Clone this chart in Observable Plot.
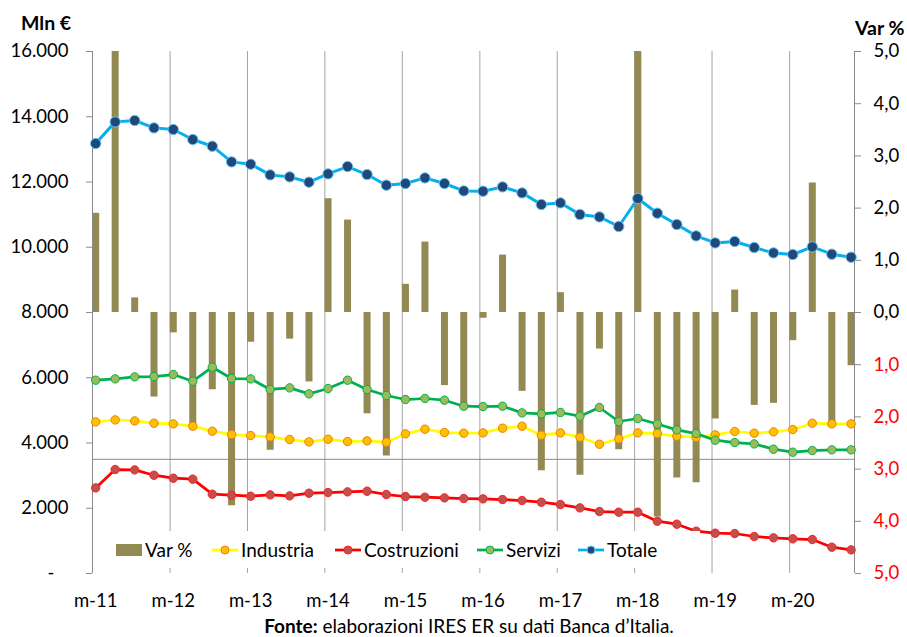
<!DOCTYPE html>
<html>
<head>
<meta charset="utf-8">
<script src="https://cdn.jsdelivr.net/npm/d3@7"></script>
<script src="https://cdn.jsdelivr.net/npm/@observablehq/plot@0.6"></script>
<style>
  html, body { margin: 0; padding: 0; background: #fff; }
  body { font-family: Lato, "Open Sans", sans-serif; color: #000; }
  #wrap { position: relative; width: 907px; height: 637px; overflow: hidden; }
  #chart { position: absolute; left: 0; top: 0; }
  .ttl { position: absolute; font-weight: bold; font-size: 19.5px; }
  #legend { position: absolute; left: 104px; top: 531px; width: 596px; height: 37px; background: #fff; }
  .li { position: absolute; top: 0; height: 37px; display: flex; align-items: center; font-size: 19px; white-space: nowrap; }
  #caption { position: absolute; left: 0; top: 614px; width: 938px; text-align: center; font-size: 19px; }
</style>
</head>
<body>
<div id="wrap">
  <div id="chart"></div>
  <div class="ttl" style="left:21px; top:11px;">Mln €</div>
  <div class="ttl" style="left:855px; top:16px;">Var %</div>
  <div id="legend"></div>
  <div id="caption"><b>Fonte:</b> elaborazioni IRES ER su dati Banca d’Italia.</div>
</div>
<script>
// Quarterly loans by sector (million €) and quarterly % change of the total
const periods = [
  "2011-03","2011-06","2011-09","2011-12",
  "2012-03","2012-06","2012-09","2012-12",
  "2013-03","2013-06","2013-09","2013-12",
  "2014-03","2014-06","2014-09","2014-12",
  "2015-03","2015-06","2015-09","2015-12",
  "2016-03","2016-06","2016-09","2016-12",
  "2017-03","2017-06","2017-09","2017-12",
  "2018-03","2018-06","2018-09","2018-12",
  "2019-03","2019-06","2019-09","2019-12",
  "2020-03","2020-06","2020-09","2020-12"
];

const industria = [
  4647, 4708, 4677, 4607, 4586, 4515, 4362, 4260, 4229, 4188,
  4106, 4034, 4116, 4045, 4065, 4024, 4280, 4423, 4321, 4300,
  4310, 4454, 4515, 4239, 4310, 4178, 3963, 4127, 4310, 4290,
  4208, 4178, 4249, 4352, 4300, 4341, 4413, 4607, 4586, 4586
];

const costruzioni = [
  2624, 3187, 3176, 3013, 2921, 2891, 2431, 2400, 2369, 2410,
  2380, 2461, 2482, 2502, 2523, 2421, 2360, 2339, 2318, 2298,
  2288, 2267, 2237, 2185, 2114, 2012, 1900, 1879, 1879, 1603,
  1511, 1297, 1236, 1226, 1134, 1093, 1063, 1042, 807, 725
];

const servizi = [
  5925, 5966, 6027, 6037, 6099, 5894, 6323, 5976, 5966, 5640,
  5690, 5506, 5670, 5925, 5640, 5456, 5333, 5364, 5312, 5128,
  5118, 5128, 4923, 4892, 4935, 4821, 5088, 4659, 4751, 4581,
  4402, 4290, 4086, 4015, 3973, 3810, 3718, 3769, 3790, 3790
];

const totale = [
  13180, 13843, 13885, 13659, 13609, 13302, 13097, 12617, 12546, 12218,
  12157, 11994, 12249, 12474, 12229, 11902, 11954, 12126, 11954, 11727,
  11718, 11850, 11666, 11310, 11360, 11004, 10930, 10636, 11494, 11044,
  10697, 10348, 10133, 10176, 9992, 9827, 9778, 10011, 9787, 9695
];

const varPct = [
  1.90, 5.00, 0.28, -1.62, -0.39, -2.25, -1.48, -3.70, -0.57, -2.64,
  -0.51, -1.33, 2.18, 1.77, -1.94, -2.75, 0.54, 1.35, -1.40, -1.80,
  -0.11, 1.10, -1.51, -3.03, 0.38, -3.12, -0.70, -2.63, 5.00, -3.92,
  -3.17, -3.26, -2.04, 0.43, -1.78, -1.74, -0.54, 2.48, -2.20, -1.02
];

const yearLabels = ["m-11","m-12","m-13","m-14","m-15","m-16","m-17","m-18","m-19","m-20"];
const leftTicks = [0, 2000, 4000, 6000, 8000, 10000, 12000, 14000, 16000];
const rightTicks = [-5, -4, -3, -2, -1, 0, 1, 2, 3, 4, 5];
const refLine = 3500;

// Secondary axis: 0% sits at 8.000, ±5% at the edges of the left scale
const pctToLeft = v => 8000 + v * 1600;

const itFmt = d3.formatLocale({decimal: ",", thousands: ".", grouping: [3], currency: ["", "€"]}).format(",");
const pctFmt = v => Math.abs(v).toFixed(1).replace(".", ",");

// Each quarter is plotted at the middle of its closing month
const dateOf = p => new Date(Date.UTC(+p.slice(0, 4), +p.slice(5, 7) - 1, 16));
const rows = periods.map((p, i) => ({
  date: dateOf(p),
  industria: industria[i],
  costruzioni: costruzioni[i],
  servizi: servizi[i],
  totale: totale[i],
  pct: varPct[i]
}));

const firstYear = +periods[0].slice(0, 4);
const lastYear = +periods[periods.length - 1].slice(0, 4);
const yearStarts = d3.range(firstYear + 1, lastYear + 1).map(y => new Date(Date.UTC(y, 2, 1)));
const labelDates = yearLabels.map((_, k) => new Date(Date.UTC(firstYear + k, 2, 16)));
const xStart = new Date(Date.UTC(firstYear, 2, 1));
const xEnd = new Date(Date.UTC(lastYear + 1, 0, 1));

const grid = "#a3a3a3";
const axisGray = "#8a8a8a";

const chart = Plot.plot({
  width: 907,
  height: 612,
  marginTop: 51,
  marginBottom: 39,
  marginLeft: 92,
  marginRight: 53,
  style: {fontFamily: "Lato, 'Open Sans', sans-serif", fontSize: "18.5px", color: "#000", background: "transparent"},
  x: {type: "utc", domain: [xStart, xEnd]},
  y: {domain: [0, 16000]},
  marks: [
    Plot.ruleX(yearStarts, {stroke: grid, strokeWidth: 1}),
    Plot.ruleY([refLine], {stroke: axisGray, strokeWidth: 1}),
    Plot.ruleX(rows, {x: "date", y1: 8000, y2: d => pctToLeft(d.pct), stroke: "#938953", strokeWidth: 7}),
    // left axis
    Plot.ruleX([xStart], {stroke: axisGray}),
    Plot.axisY(leftTicks, {
      anchor: "left", tickSize: 6, tickPadding: 18, stroke: axisGray, fill: "#000",
      tickFormat: d => d === 0 ? "-\u00a0\u00a0\u00a0" : itFmt(d)
    }),
    // right axis (Var %)
    Plot.ruleX([xEnd], {stroke: axisGray}),
    Plot.axisY(rightTicks.filter(v => v >= 0).map(pctToLeft), {
      anchor: "right", tickSize: 6, tickPadding: 13, stroke: axisGray, fill: "#000",
      tickFormat: d => pctFmt((d - 8000) / 1600)
    }),
    Plot.axisY(rightTicks.filter(v => v < 0).map(pctToLeft), {
      anchor: "right", tickSize: 6, tickPadding: 13, stroke: axisGray, fill: "#ff0000",
      tickFormat: d => pctFmt((d - 8000) / 1600)
    }),
    // x axis labels
    Plot.axisX(labelDates, {
      anchor: "bottom", tickSize: 0, tickPadding: 20, fill: "#000",
      tickFormat: (d, i) => yearLabels[i]
    }),
    // series
    Plot.line(rows, {x: "date", y: "industria", stroke: "#ffff00", strokeWidth: 2.75}),
    Plot.dot(rows, {x: "date", y: "industria", r: 4.2, fill: "#ffc000", stroke: "#ee7d12", strokeWidth: 1}),
    Plot.line(rows, {x: "date", y: "costruzioni", stroke: "#ff0000", strokeWidth: 2.75}),
    Plot.dot(rows, {x: "date", y: "costruzioni", r: 4.2, fill: "#c0504d", stroke: "#ff2020", strokeWidth: 1}),
    Plot.line(rows, {x: "date", y: "servizi", stroke: "#00b050", strokeWidth: 2.75}),
    Plot.dot(rows, {x: "date", y: "servizi", r: 4.2, fill: "#9bbb59", stroke: "#00b050", strokeWidth: 1}),
    Plot.line(rows, {x: "date", y: "totale", stroke: "#00b0f0", strokeWidth: 3}),
    Plot.dot(rows, {x: "date", y: "totale", r: 5.2, fill: "#1f497d", stroke: "#6fc6ec", strokeWidth: 1})
  ]
});
document.getElementById("chart").appendChild(chart);

// Legend
const legendItems = [
  {label: "Var %", kind: "bar", color: "#938953", left: 12},
  {label: "Industria", kind: "line", color: "#ffff00", dotFill: "#ffc000", dotStroke: "#ee7d12", left: 108},
  {label: "Costruzioni", kind: "line", color: "#ff0000", dotFill: "#c0504d", dotStroke: "#ff2020", left: 231},
  {label: "Servizi", kind: "line", color: "#00b050", dotFill: "#9bbb59", dotStroke: "#00b050", left: 373},
  {label: "Totale", kind: "line", color: "#00b0f0", dotFill: "#1f497d", dotStroke: "#6fc6ec", left: 474}
];
const legend = document.getElementById("legend");
for (const it of legendItems) {
  const el = document.createElement("div");
  el.className = "li";
  el.style.left = it.left + "px";
  const sw = it.kind === "bar"
    ? `<svg width="27" height="14"><rect x="0" y="1" width="26" height="12" fill="${it.color}"/></svg>`
    : `<svg width="27" height="14"><line x1="0" x2="26" y1="7" y2="7" stroke="${it.color}" stroke-width="2.75"/><circle cx="13" cy="7" r="4" fill="${it.dotFill}" stroke="${it.dotStroke}"/></svg>`;
  el.innerHTML = sw + `<span style="margin-left:2px">${it.label}</span>`;
  legend.appendChild(el);
}
</script>
</body>
</html>
